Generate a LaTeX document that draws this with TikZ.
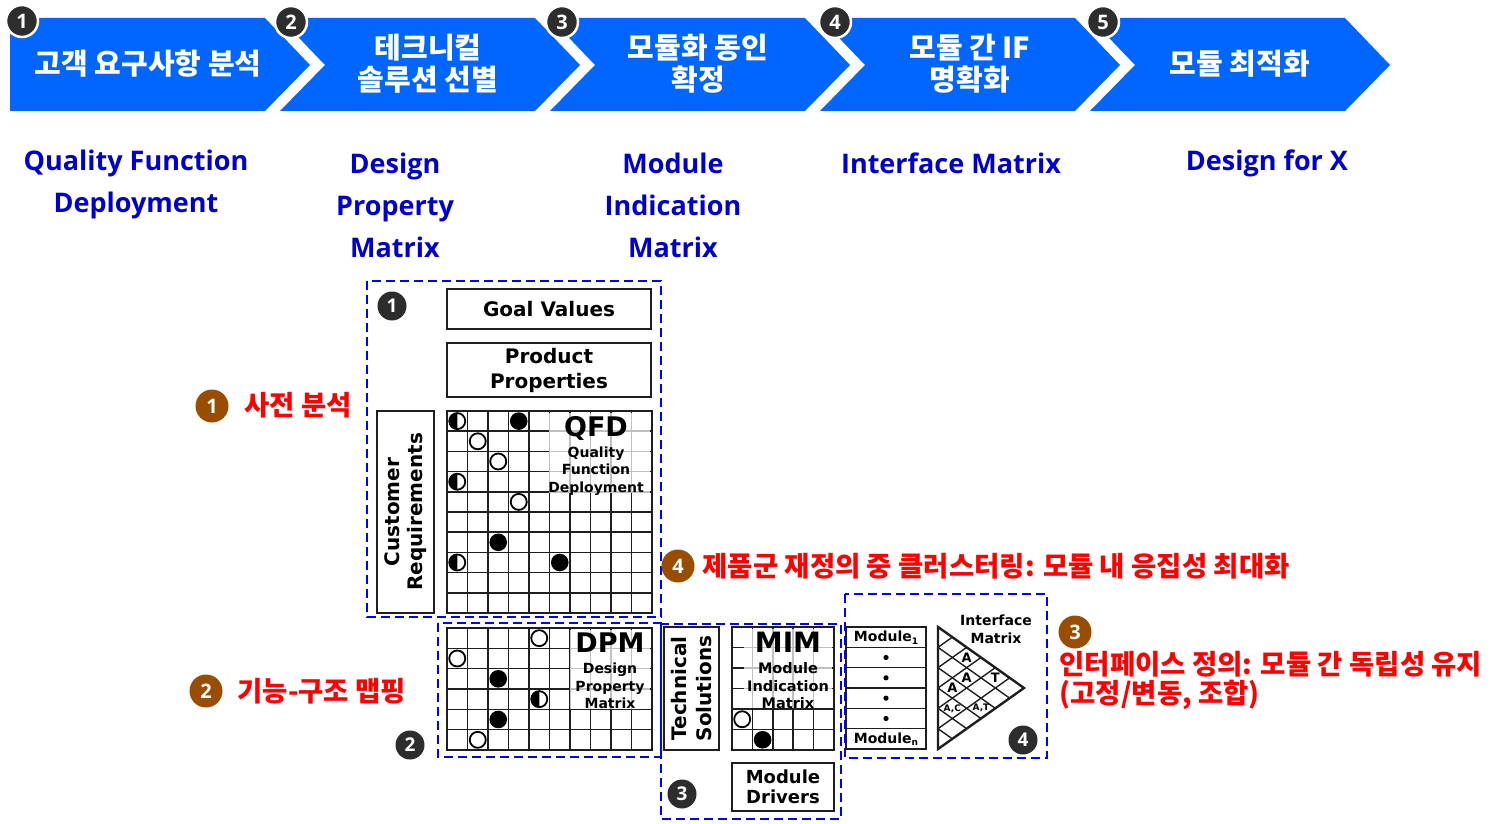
\documentclass[tikz,border=0pt]{standalone}
\usepackage{fontspec}
\setmainfont{Noto Sans CJK KR}
\newfontfamily\dvfont{DejaVu Sans}
\newfontfamily\osfont{Open Sans}
\usetikzlibrary{calc}
\definecolor{chevblue}{RGB}{0,102,255}
\definecolor{labblue}{RGB}{0,0,204}
\definecolor{numgray}{RGB}{45,45,45}
\definecolor{numbrown}{RGB}{153,77,0}
\definecolor{gridgray}{RGB}{30,30,30}
\definecolor{dashblue}{RGB}{0,0,255}
\begin{document}
\begin{tikzpicture}[x=1pt,y=-1pt,
  chev/.style={fill=chevblue},
  chevtext/.style={text=white,align=center,font=\fontsize{29}{32}\selectfont\bfseries},
  topnum/.style={circle,fill=numgray,draw=white,line width=2.5pt,minimum size=32pt,inner sep=0pt,text=white,font=\osfont\fontsize{20}{20}\selectfont\bfseries},
  bluelab/.style={text=labblue,align=center,font=\osfont\fontsize{27}{42}\selectfont\bfseries},
  dashbox/.style={draw=dashblue,line width=2.6pt,dash pattern=on 9pt off 5pt},
  dbox/.style={draw=gridgray,line width=2.2pt,fill=white,inner sep=0pt,align=center,font=\dvfont\fontsize{20}{25}\selectfont\bfseries},
  gline/.style={draw=gridgray,line width=1.6pt},
  gridframe/.style={draw=gridgray,line width=2.4pt},
  opn/.style={draw=black,fill=white,line width=1.8pt},
  grnum/.style={circle,fill=numgray,minimum size=29pt,inner sep=0pt,text=white,font=\osfont\fontsize{19}{19}\selectfont\bfseries},
  brnum/.style={circle,fill=numbrown,minimum size=33pt,inner sep=0pt,text=white,font=\osfont\fontsize{20}{20}\selectfont\bfseries},
  redtxt/.style={text=red,anchor=west,align=left,font=\fontsize{27.5}{29}\selectfont\bfseries},
  bigtag/.style={inner sep=0pt,font=\dvfont\fontsize{27}{27}\selectfont\bfseries},
  smalltag/.style={inner sep=0pt,align=center,font=\dvfont\fontsize{14}{17.5}\selectfont\bfseries},
  celltag/.style={inner sep=0pt,font=\dvfont\fontsize{13}{13}\selectfont\bfseries},
]
\useasboundingbox (0,0) rectangle (1500,824);

% process chevrons
\fill[chev] (10,18) -- (265,18) -- (310,65) -- (265,111) -- (10,111) -- cycle;
\foreach \L in {280,550,820,1090}
  \fill[chev] (\L,18) -- ({\L+255},18) -- ({\L+300},65) -- ({\L+255},111) -- (\L,111) -- ({\L+45},65) -- cycle;
\node[topnum] (n1) at (22,21) {1};
\node[topnum] (n2) at (291,22) {2};
\node[topnum] (n3) at (562,22) {3};
\node[topnum] (n4) at (835,22) {4};
\node[topnum] (n5) at (1103,22) {5};
\node[chevtext] (c1) at (148,64) {고객 요구사항 분석};
\node[chevtext] (c2) at (428,64) {테크니컬\\솔루션 선별};
\node[chevtext] (c3) at (698,64) {모듈화 동인\\확정};
\node[chevtext] (c4) at (970,64) {모듈 간 IF\\명확화};
\node[chevtext] (c5) at (1240,64) {모듈 최적화};

% method names
\node[bluelab] (qfdlab) at (136,184) {Quality Function\\Deployment};
\node[bluelab] (dpmlab) at (395,205) {Design\\Property\\Matrix};
\node[bluelab] (mimlab) at (673,205) {Module\\Indication\\Matrix};
\node[bluelab] (iflab) at (951,163) {Interface Matrix};
\node[bluelab] (dfxlab) at (1267,163) {Design for X};

% QFD block
\node[dbox,minimum width=204pt,minimum height=40pt] (goal) at (549,309) {Goal Values};
\node[dbox,minimum width=204pt,minimum height=54pt] (prop) at (549,370) {Product\\Properties};
\draw[gridframe] (377,411) rectangle (434,613);
\node[rotate=90,align=center,inner sep=0pt,font=\dvfont\fontsize{20}{23}\selectfont\bfseries] (custreq) at (405.5,512) {Customer\\Requirements};
\foreach \c in {1,...,9}
  \draw[gline] ({447+20.5*\c},411) -- ({447+20.5*\c},613);
\foreach \r in {1,...,9}
  \draw[gline] (447,{411+20.2*\r}) -- (652,{411+20.2*\r});
\fill[white,opacity=0.72] (549,413) rectangle (650,493);
\draw[gridframe] (447,411) rectangle (652,613);
\foreach \c/\r in {1/1,2/2,3/4}
  \draw[opn] ({447+20.5*(\c+0.5)},{411+20.2*(\r+0.5)}) circle (8);
\foreach \c/\r in {3/0,2/6,5/7}
  \fill ({447+20.5*(\c+0.5)},{411+20.2*(\r+0.5)}) circle (8.8);
\foreach \c/\r in {0/0,0/3,0/7} {
  \draw[opn] ({447+20.5*(\c+0.5)},{411+20.2*(\r+0.5)}) circle (8);
  \fill ({447+20.5*(\c+0.5)},{411+20.2*(\r+0.5)}) -- ++(0,8) arc[start angle=90,end angle=270,radius=8] -- cycle;
}
\node[bigtag] (qfdtag) at (596,428) {QFD};
\node[smalltag] (qfdsub) at (596,471) {Quality\\Function\\Deployment};

% DPM block
\foreach \c in {1,...,9}
  \draw[gline] ({447+20.5*\c},628) -- ({447+20.5*\c},750);
\foreach \r in {1,...,5}
  \draw[gline] (447,{628+20.33*\r}) -- (652,{628+20.33*\r});
\fill[white,opacity=0.72] (570,630) rectangle (650,709);
\draw[gridframe] (447,628) rectangle (652,750);
\foreach \c/\r in {4/0,0/1,1/5}
  \draw[opn] ({447+20.5*(\c+0.5)},{628+20.33*(\r+0.5)}) circle (8);
\foreach \c/\r in {2/2,2/4}
  \fill ({447+20.5*(\c+0.5)},{628+20.33*(\r+0.5)}) circle (8.8);
\draw[opn] ({447+20.5*4.5},{628+20.33*3.5}) circle (8);
\fill ({447+20.5*4.5},{628+20.33*3.5}) -- ++(0,8) arc[start angle=90,end angle=270,radius=8] -- cycle;
\node[bigtag] (dpmtag) at (610,643) {DPM};
\node[smalltag] (dpmsub) at (610,686) {Design\\Property\\Matrix};

% MIM block
\draw[gridframe] (664,627) rectangle (719,750);
\node[rotate=90,align=center,inner sep=0pt,font=\dvfont\fontsize{20}{25}\selectfont\bfseries] (techsol) at (691.5,688.5) {Technical\\Solutions};
\foreach \c in {1,...,4}
  \draw[gline] ({732+20.4*\c},627) -- ({732+20.4*\c},750);
\foreach \r in {1,...,5}
  \draw[gline] (732,{627+20.5*\r}) -- (834,{627+20.5*\r});
\fill[white,opacity=0.72] (744,629) rectangle (832,708);
\draw[gridframe] (732,627) rectangle (834,750);
\draw[opn] ({732+20.4*0.5},{627+20.5*4.5}) circle (8);
\fill ({732+20.4*1.5},{627+20.5*5.5}) circle (8.8);
\node[bigtag,font=\dvfont\fontsize{28}{28}\selectfont\bfseries] (mimtag) at (788,642) {MIM};
\node[smalltag,font=\dvfont\fontsize{14.5}{17.5}\selectfont\bfseries] (mimsub) at (788,686) {Module\\Indication\\Matrix};
\node[dbox,minimum width=102pt,minimum height=48pt,font=\dvfont\fontsize{18}{20}\selectfont\bfseries] (drivers) at (783,787) {Module\\Drivers};

% interface block
\foreach \r in {1,...,5}
  \draw[gline] (846,{627+20.33*\r}) -- (926,{627+20.33*\r});
\draw[gridframe] (846,627) rectangle (926,749);
\node[celltag,font=\dvfont\fontsize{14}{14}\selectfont\bfseries] (mod1) at (886,637.5) {Module\raisebox{-2.5pt}{\fontsize{9}{9}\selectfont 1}};
\node[celltag,font=\dvfont\fontsize{14}{14}\selectfont\bfseries] (modn) at (886,739) {Module\raisebox{-2.5pt}{\fontsize{9}{9}\selectfont n}};
\foreach \r in {1,...,4}
  \fill (886,{627+20.33*(\r+0.5)}) circle (2.6);
\coordinate (ta) at (938,627);
\coordinate (tb) at (938,749);
\coordinate (tc) at (1024,688);
\foreach \k in {1,...,5} {
  \draw[gline,line width=1.4pt] ($(ta)!\k/6!(tb)$) -- ($(tb)!1-\k/6!(tc)$);
  \draw[gline,line width=1.4pt] ($(ta)!\k/6!(tb)$) -- ($(ta)!\k/6!(tc)$);
}
\draw[gridframe,line join=miter] (ta) -- (tb) -- (tc) -- cycle;
\node[celltag] (ia1) at (966.7,657.5) {A};
\node[celltag] (ia2) at (966.7,677.8) {A};
\node[celltag] (it1) at (995.3,677.9) {T};
\node[celltag] (ia3) at (952.3,688) {A};
\node[celltag,font=\dvfont\fontsize{9}{9}\selectfont\bfseries] (iac) at (952.3,708.4) {A,C};
\node[celltag,font=\dvfont\fontsize{9}{9}\selectfont\bfseries] (iat) at (981,708.3) {A,T};
\node[smalltag] (ifmtag) at (996,629.5) {Interface\\Matrix};

% dashed groups
\draw[dashbox] (367,281) rectangle (661,617);
\draw[dashbox] (438,623) rectangle (661,757);
\draw[dashbox] (661,624) rectangle (841,819);
\draw[dashbox] (845,594) rectangle (1047,758);
\node[grnum] (g1) at (392,306) {1};
\node[grnum] (g2) at (410,745) {2};
\node[grnum] (g3) at (682,794) {3};
\node[grnum] (g4) at (1023,740) {4};

% step notes
\node[brnum] (b1) at (212,406) {1};
\node[redtxt] (r1) at (241,405) {사전 분석};
\node[brnum] (b2) at (206,691) {2};
\node[redtxt] (r2) at (234,691) {기능-구조 맵핑};
\node[brnum] (b4) at (678,566) {4};
\node[redtxt] (r4) at (699,566) {제품군 재정의 중 클러스터링: 모듈 내 응집성 최대화};
\node[brnum] (b3) at (1075,632) {3};
\node[redtxt] (r3) at (1056,680.5) {인터페이스 정의: 모듈 간 독립성 유지\\(고정/변동, 조합)};
\end{tikzpicture}
\end{document}
